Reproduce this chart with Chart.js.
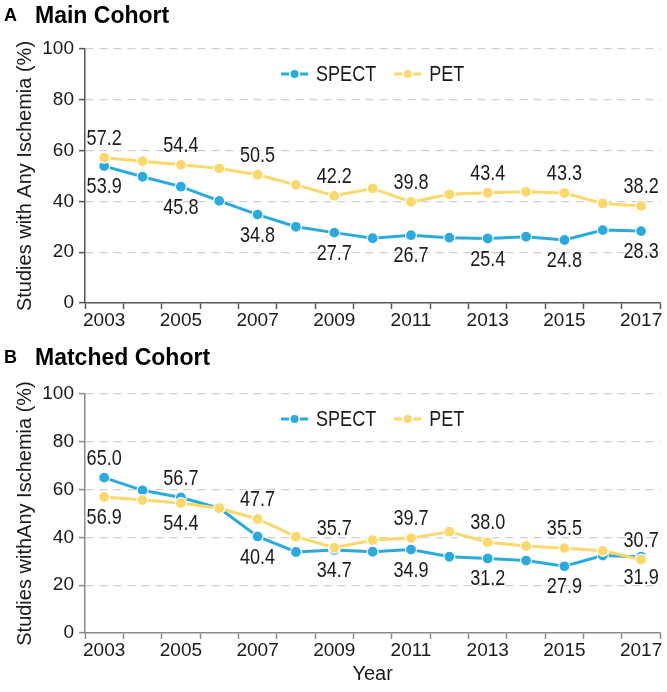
<!DOCTYPE html>
<html>
<head>
<meta charset="utf-8">
<script src="https://cdn.jsdelivr.net/npm/chart.js@4"></script>
<style>
  html, body { margin: 0; padding: 0; background: #fff; }
  #wrap { position: relative; width: 667px; height: 692px; }
  canvas { position: absolute; left: 0; }
</style>
</head>
<body>
<div id="wrap">
  <canvas id="chartA" width="667" height="345" style="top:0"></canvas>
  <canvas id="chartB" width="667" height="362" style="top:330px"></canvas>
</div>
<script>
const years = ['2003', '2004', '2005', '2006', '2007', '2008', '2009', '2010',
  '2011', '2012', '2013', '2014', '2015', '2016', '2017'];
const yTicks = [0, 20, 40, 60, 80, 100];

// A: main cohort
const mainSpect = [53.9, 49.7, 45.8, 40.2, 34.8, 30.0, 27.7, 25.5, 26.7, 25.7, 25.4, 26.1, 24.8, 28.7, 28.3];
const mainPet = [57.2, 55.8, 54.4, 53.0, 50.5, 46.5, 42.2, 45.1, 39.8, 42.8, 43.4, 43.8, 43.3, 39.2, 38.2];
// B: matched cohort
const matchedSpect = [65.0, 59.7, 56.7, 52.2, 40.4, 33.9, 34.7, 34.0, 34.9, 31.9, 31.2, 30.3, 27.9, 32.4, 31.9];
const matchedPet = [56.9, 55.6, 54.4, 52.2, 47.7, 40.3, 35.7, 38.9, 39.7, 42.4, 38.0, 36.4, 35.5, 34.4, 30.7];

const BLUE = '#29abe2';
const YELLOW = '#fcd86a';
const SANS = '"Liberation Sans", Arial, sans-serif';
const SQUEEZE = 0.82; // fake a narrow face for the labels we draw ourselves

function narrowText(ctx, txt, x, y) {
  ctx.save();
  ctx.translate(x, y);
  ctx.scale(SQUEEZE, 1);
  ctx.fillText(txt, 0, 0);
  ctx.restore();
}

// value labels, legend and panel heading
const decor = {
  id: 'decor',
  afterDatasetsDraw(chart, args, opts) {
    const ctx = chart.ctx;
    const area = chart.chartArea;
    ctx.save();

    // value labels on odd years
    ctx.font = '22px ' + SANS;
    ctx.fillStyle = '#1a1a1a';
    ctx.textAlign = 'center';
    ctx.textBaseline = 'middle';
    chart.data.datasets.forEach((ds, di) => {
      const meta = chart.getDatasetMeta(di);
      meta.data.forEach((pt, i) => {
        if (i % 2) return;
        const up = opts.sides[di][i] > 0;
        narrowText(ctx, ds.data[i].toFixed(1), pt.x, pt.y + (up ? -19 : 21));
      });
    });

    // legend inside the plot
    const items = chart.data.datasets.map(ds => ({ ds, w: ctx.measureText(ds.label).width * SQUEEZE }));
    const markW = 27, gapText = 8, gapItem = 18;
    let total = 0;
    items.forEach((it, k) => { total += markW + gapText + it.w + (k ? gapItem : 0); });
    let x = (area.left + area.right) / 2 - total / 2;
    const ly = area.top + 25;
    items.forEach((it, k) => {
      if (k) x += gapItem;
      const c = it.ds.borderColor;
      ctx.strokeStyle = c;
      ctx.lineWidth = 3;
      ctx.beginPath();
      ctx.moveTo(x, ly); ctx.lineTo(x + 8, ly);
      ctx.moveTo(x + 19, ly); ctx.lineTo(x + markW, ly);
      ctx.stroke();
      ctx.fillStyle = c;
      ctx.beginPath();
      ctx.arc(x + markW / 2, ly, 4, 0, Math.PI * 2);
      ctx.fill();
      x += markW + gapText;
      ctx.fillStyle = '#1a1a1a';
      ctx.textAlign = 'left';
      narrowText(ctx, it.ds.label, x, ly + 1);
      x += it.w;
    });

    // panel heading
    ctx.fillStyle = '#000';
    ctx.textBaseline = 'alphabetic';
    ctx.font = 'bold 18px ' + SANS;
    ctx.fillText(opts.letter, 4, opts.titleY - 2);
    ctx.font = 'bold 23px ' + SANS;
    ctx.fillText(opts.title, 35, opts.titleY);
    ctx.restore();
  }
};

function makeChart(id, spect, pet, cfg) {
  return new Chart(document.getElementById(id), {
    type: 'line',
    data: {
      labels: years,
      datasets: [
        {
          label: 'SPECT', data: spect, order: 1,
          borderColor: BLUE, backgroundColor: BLUE,
          borderWidth: 3, pointRadius: 5.5, pointHoverRadius: 5.5,
          pointBorderColor: '#fff', pointBorderWidth: 1.2, tension: 0
        },
        {
          label: 'PET', data: pet, order: 0,
          borderColor: YELLOW, backgroundColor: YELLOW,
          borderWidth: 3, pointRadius: 5.5, pointHoverRadius: 5.5,
          pointBorderColor: '#fff', pointBorderWidth: 1.2, tension: 0
        }
      ]
    },
    options: {
      responsive: false,
      animation: false,
      devicePixelRatio: 1,
      layout: { padding: { top: cfg.top, left: 0, right: 5, bottom: 0 } },
      plugins: {
        legend: { display: false },
        tooltip: { enabled: false },
        decor: { sides: cfg.sides, letter: cfg.letter, title: cfg.title, titleY: cfg.titleY }
      },
      scales: {
        x: {
          type: 'category',
          offset: true,
          afterFit: s => { s.height = cfg.xHeight; },
          grid: { offset: true, drawOnChartArea: false, drawTicks: true, tickLength: 6, tickColor: cfg.axisColor, tickWidth: 1.5 },
          border: { display: true, color: cfg.axisColor, width: 1.5 },
          ticks: {
            autoSkip: false, maxRotation: 0, padding: 0, color: '#1a1a1a',
            font: { family: SANS, size: 19 },
            callback: (v, i) => (i % 2 ? '' : years[i])
          },
          title: {
            display: !!cfg.xTitle, text: cfg.xTitle, color: '#1a1a1a',
            font: { family: SANS, size: 20 }, padding: { top: 0, bottom: 6 }
          }
        },
        y: {
          min: 0, max: 100,
          afterFit: s => { s.width = 85; },
          afterBuildTicks: s => { s.ticks = yTicks.map(v => ({ value: v })); },
          grid: {
            color: ctx => (ctx.tick && ctx.tick.value === 0 ? 'rgba(0,0,0,0)' : '#d0d0d0'),
            lineWidth: 1.2, drawTicks: true, tickLength: 6,
            tickColor: cfg.axisColor, tickWidth: 1.5
          },
          border: { display: true, color: cfg.axisColor, width: 1.5, dash: [8, 6] },
          ticks: { padding: 5, color: '#1a1a1a', font: { family: SANS, size: 19 } },
          title: {
            display: true, text: cfg.yTitle, color: '#1a1a1a',
            font: { family: SANS, size: 20 }, padding: { top: 13, bottom: 0 }
          }
        }
      }
    },
    plugins: [decor]
  });
}

const up = 1, dn = -1;
makeChart('chartA', mainSpect, mainPet, {
  top: 49, xHeight: 42, axisColor: '#555',
  letter: 'A', title: 'Main Cohort', titleY: 23,
  yTitle: 'Studies with Any Ischemia (%)', xTitle: '',
  sides: [years.map(() => dn), years.map(() => up)]
});
makeChart('chartB', matchedSpect, matchedPet, {
  top: 64, xHeight: 59, axisColor: '#8a8a8a',
  letter: 'B', title: 'Matched Cohort', titleY: 35,
  yTitle: 'Studies withAny Ischemia (%)', xTitle: 'Year',
  sides: [years.map((y, i) => (i < 4 ? up : dn)), years.map((y, i) => (i < 4 ? dn : up))]
});
</script>
</body>
</html>
